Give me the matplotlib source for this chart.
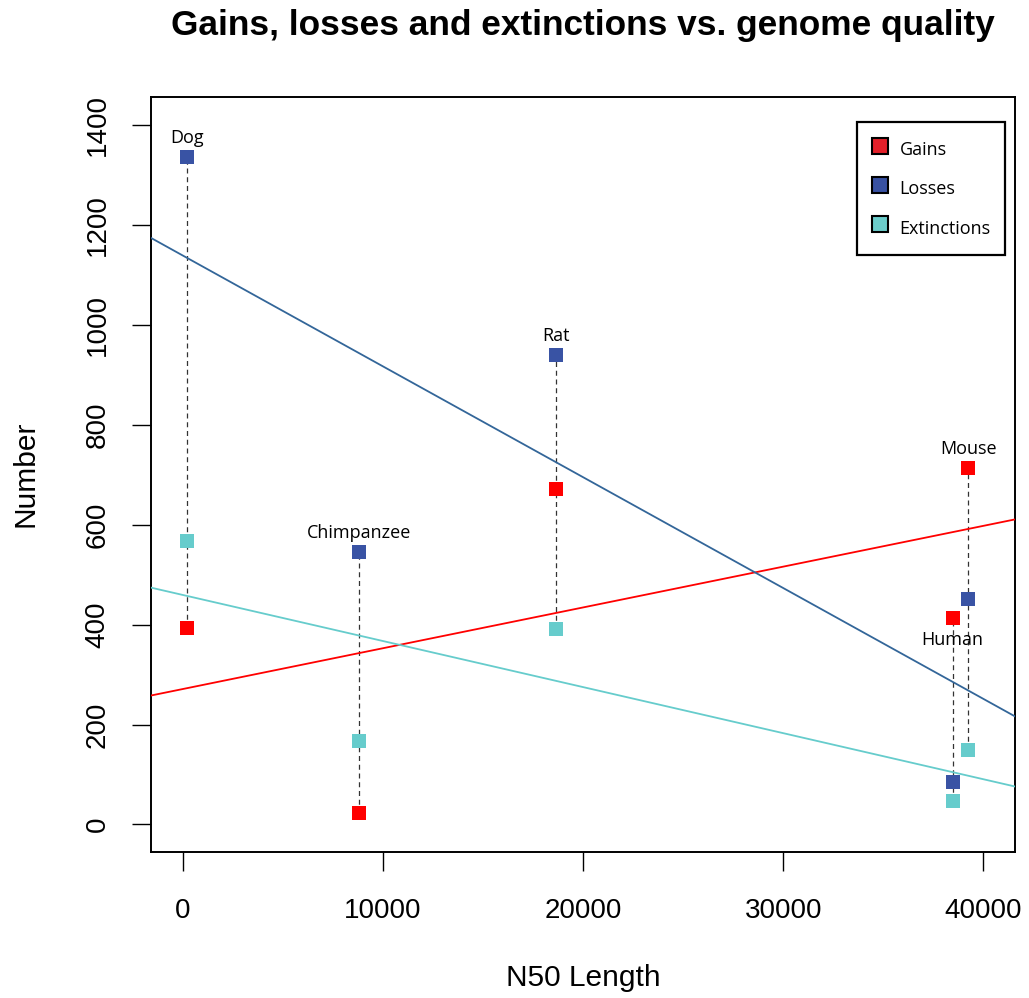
import numpy as np
import matplotlib
matplotlib.use("Agg")
import matplotlib.pyplot as plt
from matplotlib.lines import Line2D

# N50 assembly length of each genome and the event counts per genome
species = ["Dog", "Chimpanzee", "Rat", "Human", "Mouse"]
n50 = [200, 8817, 18633, 38473, 39256]
gains = [394, 23, 672, 413, 713]
losses = [1335, 545, 939, 85, 451]
extinctions = [567, 168, 392, 48, 150]
label_side = ["above", "above", "above", "below", "above"]

series_names = ["Gains", "Losses", "Extinctions"]
point_colors = ["#FF0000", "#3953A4", "#66CCCC"]
legend_colors = ["#E3202A", "#3851A2", "#6CCDCB"]
fit_colors = ["#FF0000", "#336699", "#66CCCC"]

xticks = [0, 10000, 20000, 30000, 40000]
yticks = [0, 200, 400, 600, 800, 1000, 1200, 1400]

fig = plt.figure(figsize=(10.29, 9.98), dpi=100)
ax = fig.add_axes([0.1465, 0.1458, 0.8402, 0.7573])

xlim = (-1600, 41600)
ylim = (-56, 1456)
ax.set_xlim(*xlim)
ax.set_ylim(*ylim)

x = np.array(n50, dtype=float)
all_series = [np.array(gains, float), np.array(losses, float), np.array(extinctions, float)]

# dashed range lines per genome
stack = np.vstack(all_series)
for xi, lo, hi in zip(x, stack.min(axis=0), stack.max(axis=0)):
    ax.plot([xi, xi], [lo, hi], color="#333333", lw=0.9, dashes=(4, 3), zorder=2)

# least-squares fits across the full width
xx = np.array(xlim)
for ys, c in zip(all_series, fit_colors):
    slope, icpt = np.polyfit(x, ys, 1)
    ax.plot(xx, slope * xx + icpt, color=c, lw=1.3, zorder=3)

# points
for ys, c in zip(all_series, point_colors):
    ax.plot(x, ys, linestyle="none", marker="s", markersize=10.5,
            markerfacecolor=c, markeredgewidth=0, zorder=4)

# genome labels
tops = stack.max(axis=0)
for name, xi, yi, side in zip(species, x, tops, label_side):
    if side == "above":
        ax.annotate(name, (xi, yi), xytext=(0, 7.5), textcoords="offset points",
                    ha="center", va="bottom", fontsize=13, family="Open Sans")
    else:
        ax.annotate(name, (xi, yi), xytext=(0, -9), textcoords="offset points",
                    ha="center", va="top", fontsize=13, family="Open Sans")

for sp in ax.spines.values():
    sp.set_linewidth(1.4)
    sp.set_color("black")

ax.set_xticks(xticks)
ax.set_xticklabels([str(v) for v in xticks])
ax.set_yticks(yticks)
ax.set_yticklabels([str(v) for v in yticks], rotation=90, va="center")
ax.tick_params(axis="both", length=13.5, width=1.0, labelsize=20, direction="out")
ax.tick_params(axis="x", pad=19)
ax.tick_params(axis="y", pad=15.5)
for lab in ax.get_xticklabels() + ax.get_yticklabels():
    lab.set_family("Liberation Sans")

plot_cx = (150.7 + 1015.3) / 2 / 1029
fig.text(plot_cx, 1 - 26 / 998, "Gains, losses and extinctions vs. genome quality",
         ha="center", va="center", fontsize=25.4, fontweight="bold", family="Liberation Sans")
fig.text(plot_cx, 1 - 978 / 998, "N50 Length",
         ha="center", va="center", fontsize=21.5, family="Liberation Sans")
fig.text(25 / 1029, 1 - 474 / 998, "Number", rotation=90,
         ha="center", va="center", fontsize=21.5, family="Liberation Sans")

handles = [Line2D([], [], linestyle="none", marker="s", markersize=11,
                  markerfacecolor=c, markeredgecolor="black", markeredgewidth=1.5)
           for c in legend_colors]
leg = ax.legend(handles, series_names, loc="upper right",
                bbox_to_anchor=(1005 / 1029, 1 - 122 / 998),
                bbox_transform=fig.transFigure, frameon=True, fancybox=False,
                edgecolor="black", framealpha=1, borderpad=0.8, labelspacing=0.76,
                handletextpad=0.63, handlelength=0.9, handleheight=1.8,
                borderaxespad=0, prop={"family": "Open Sans", "size": 13})
leg.get_frame().set_linewidth(1.6)

fig.savefig("out.png", dpi=100)
